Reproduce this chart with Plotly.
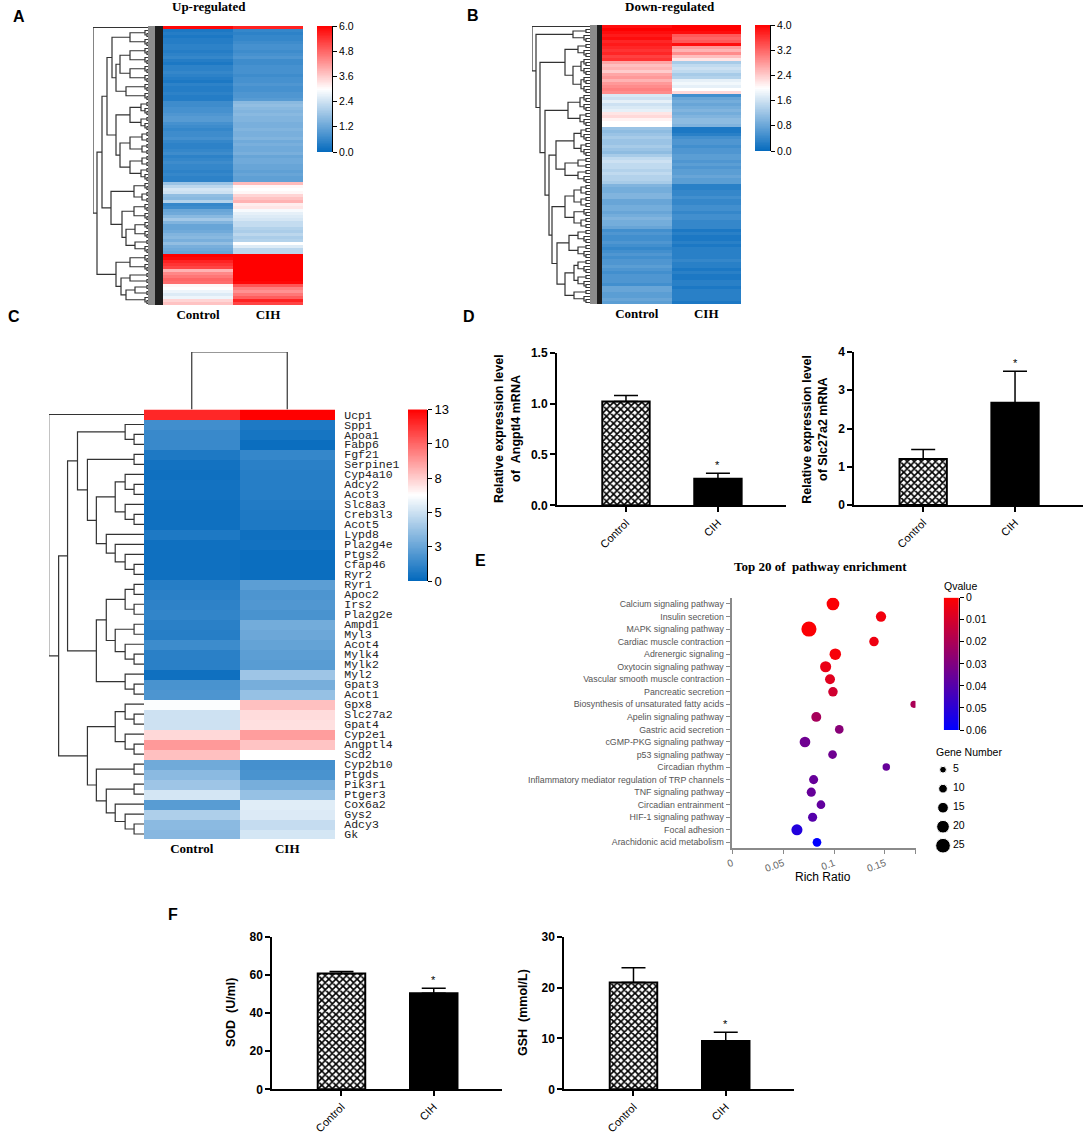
import numpy as np
import plotly.graph_objects as go

W, H = 1084, 1134
SANS = "Liberation Sans"
SERIF = "Liberation Serif"
MONO = "Liberation Mono"

GROUPS = ["Control", "CIH"]

# heat map values, top row first
A_CONTROL = [5.9,
             .3, .4, .3, .4, .4, .5, .5, .4, .5, .6, .4, .3, .5, .5, .6, .5, .4, .3, .5, .4, .4, .5, .4, .4,
             .7, .7, .8, .8, .9, 1.0, 1.0, .8, .7, .6, .7, .7, .8, .6, .5, .5, .6, .7, .5, .6, .7, .6, .6, .5, .6, .5, .5,
             1.8, 2.2, 2.5, 2.4, 1.7, 1.6, 2.1,
             .6, .7,
             1.2, 1.3, 1.6, 1.9, 1.5, 1.2, 1.2, 1.3, 1.5, 1.6, 1.4, 1.7, 1.4, 1.3, 1.2,
             6.0, 5.9, 5.6, 5.4, 5.2,
             3.9, 4.4, 4.6, 4.8, 4.7,
             3.1, 3.0, 2.8, 2.6, 2.8,
             3.5, 3.7]
A_CIH = [5.6,
         .6, .5, .6, .6, .7, .8, .8, .7, .8, .9, .7, .7, .8, .8, .8, .7, .8, .8, .9, .8, .8, .9, .9, 1.0,
         1.6, 1.7, 1.6, 1.5, 1.6, 1.5, 1.5, 1.4, 1.4, 1.5, 1.4, 1.4, 1.5, 1.3, 1.4, 1.3, 1.3, 1.4, 1.2, 1.3, 1.3, 1.2, 1.2, 1.1, 1.2, 1.1, 1.1,
         3.8, 3.1, 3.0, 3.1, 3.5, 3.7, 3.9,
         3.2, 3.3,
         2.9, 2.7, 2.6, 2.5, 2.3, 2.3, 2.1, 2.0, 2.2, 2.0, 2.1, 3.0, 2.6, 2.2, 2.2,
         6.0, 6.0, 6.0, 6.0, 6.0,
         6.0, 6.0, 6.0, 6.0, 5.9,
         5.0, 4.5, 4.3, 4.6, 4.9,
         5.6, 5.2]
B_CONTROL = [3.9, 4.0, 3.9, 3.8, 3.9, 3.7, 3.8, 3.7, 3.6, 3.7, 3.5, 3.6,
             2.7, 2.5, 2.6, 2.4, 2.7, 2.8, 2.6, 2.8, 2.9, 3.0, 2.9,
             1.7, 1.6, 1.8, 1.6, 1.7, 1.8,
             2.2, 2.3,
             2.1, 2.0, 2.0,
             1.2, 1.1, 1.2, 1.3, 1.2, 1.2, 1.3, 1.2, 1.1, 1.3,
             1.5, 1.6, 1.5, 1.5, 1.4, 1.5, 1.4, 1.4, 1.3,
             1.0, .9, .9, 1.0, 1.0, .8, .8, .9, .9, .8, .9, 1.0, .9, .9, .8,
             .5, .6, .5, .5, .6, .5, .4, .5, .6, .5, .6, .6, .7, .6, .5, .6, .6, .6, .5,
             .8, .8, .7, .7, .8, .7]
B_CIH = [4.0, 4.0, 3.9,
         3.3, 3.2, 3.3,
         3.9,
         2.8, 2.6, 2.9, 2.5, 2.2,
         1.3, 1.5, 1.6, 1.5, 1.3, 1.4,
         1.8, 1.9, 1.8, 2.0,
         2.3,
         .5, .8, .9, .8, .9, 1.0, .9, 1.0, 1.1, 1.1, 1.0,
         .2, .2, .3,
         .5, .6, .6, .5, .6, .6, .7, .7, .6, .7, .6, .7, .7, .8, .7, .7,
         .3, .3, .4, .4, .5, .4, .4, .5, .5, .4, .5, .5, .4, .4, .4,
         .2, .3, .2, .2, .3, .2, .3, .3, .3, .3, .4, .3, .3, .2, .3, .2, .2, .3, .3, .2, .3, .3, .3, .3, .2]

C_GENES = ["Ucp1", "Spp1", "Apoa1", "Fabp6", "Fgf21", "Serpine1", "Cyp4a10", "Adcy2", "Acot3", "Slc8a3",
           "Creb3l3", "Acot5", "Lypd8", "Pla2g4e", "Ptgs2", "Cfap46", "Ryr2", "Ryr1", "Apoc2", "Irs2",
           "Pla2g2e", "Ampd1", "Myl3", "Acot4", "Mylk4", "Mylk2", "Myl2", "Gpat3", "Acot1", "Gpx8",
           "Slc27a2", "Gpat4", "Cyp2e1", "Angptl4", "Scd2", "Cyp2b10", "Ptgds", "Pik3r1", "Ptger3",
           "Cox6a2", "Gys2", "Adcy3", "Gk"]
C_CONTROL = [12.0, 1.6, 1.4, 1.4, .7, .4, .3, .4, .4, .3, .3, .3, .7, .3, .3, .3, .3,
             .9, 1.0, 1.1, 1.2, 1.0, .9, 1.5, 1.0, 1.0, .3, 1.8, 1.9,
             6.4, 5.2, 5.2, 7.5, 9.1, 8.1,
             2.8, 3.5, 4.0, 5.4, 2.2, 4.4, 3.5, 3.4]
C_CIH = [13.0, .7, .5, .2, 1.3, 1.0, .9, .9, .9, .8, .7, .7, .3, .4, .2, .2, .2,
         2.3, 1.9, 2.0, 1.8, 2.9, 2.7, 2.5, 2.3, 2.2, 4.0, 3.0, 3.8,
         8.1, 7.4, 7.3, 9.0, 8.0, 6.5,
         1.7, 1.8, 3.0, 3.8, 5.7, 5.6, 5.0, 5.4]

# dendrograms: (height, upper, lower), an int is a run of that many leaves
TREE_A = (70, 1, (66, (61, (56, (51, (33, 3, 3), (47, (43, (33, 3, 3), (33, 3, 3)), (37, 3, 3))),
                            (47, (33, 5, 5), (43, (33, 4, 4), (33, 4, 5)))),
                       (52, (29, 3, 4), (41, (29, 3, 3), (37, (28, 3, 3), (28, 2, 3))))),
                  (47, (33, 3, 3), (42, (33, 2, 2), (37, (28, 2, 2), 3)))))
TREE_B = (70, 1, (66, (29, 2, 3),
                  (62, (37, (24, 2, 3), (29, (21, 3, 3), (21, 3, 3))),
                   (57, (34, (22, 3, 3), (22, 2, 3)),
                    (53, (46, (28, (21, 2, 3), (21, 2, 3)), (37, (24, 2, 2), (24, 2, 3))),
                     (50, (37, (28, (21, 2, 2), (21, 2, 2)), (28, 3, 4)),
                      (45, (33, (24, 2, 3), (24, 2, 3)),
                       (37, (28, (24, 2, 3), (24, 2, 3)), (28, 2, 3)))))))))
TREE_C = (96, 1, (86, (77, (67, (19, 1, (10, 1, 1)),
                            (57, (10, 1, 1),
                             (48, (29, (19, 1, (10, 1, 1)), (19, 1, (10, 1, 1))),
                              (38, 1, (29, 1, (19, 1, (10, 1, 1))))))),
                       (48, (38, (19, (10, 1, 1), (10, 1, 1)),
                             (29, (10, 1, 1), (19, 1, (10, 1, 1)))),
                        (19, 1, (10, 1, 1)))),
                  (57, (29, (19, 1, (10, 1, 1)), (19, 1, (10, 1, 1))),
                   (48, (10, 1, 1), (38, (10, 1, 1), (29, 1, (19, 1, (10, 1, 1))))))))
TREE_C_TOP = (57, 1, 1)
BLOCK_HEIGHT = {2: 16, 3: 18, 4: 21, 5: 22}

# bar panels
ANGPTL4 = [1.02, 0.26]
ANGPTL4_ERR = [0.06, 0.055]
SLC27A2 = [1.2, 2.67]
SLC27A2_ERR = [0.25, 0.83]
SOD = [60.7, 50.3]
SOD_ERR = [1.1, 2.7]
GSH = [21.0, 9.5]
GSH_ERR = [2.9, 1.7]

# pathway bubbles
PATHWAYS = ["Calcium signaling pathway", "Insulin secretion", "MAPK signaling pathway",
            "Cardiac muscle contraction", "Adrenergic signaling", "Oxytocin signaling pathway",
            "Vascular smooth muscle contraction", "Pancreatic secretion",
            "Biosynthesis of unsaturated fatty acids", "Apelin signaling pathway",
            "Gastric acid secretion", "cGMP-PKG signaling pathway", "p53 signaling pathway",
            "Circadian rhythm", "Inflammatory mediator regulation of TRP channels",
            "TNF signaling pathway", "Circadian entrainment", "HIF-1 signaling pathway",
            "Focal adhesion", "Arachidonic acid metabolism"]
RICH_RATIO = [.0989, .1461, .0753, .1392, .1012, .0917, .0960, .0989, .1785, .0825,
              .1051, .0714, .0985, .1513, .0799, .0776, .0871, .0789, .0635, .0832]
QVALUE = [.001, .003, .001, .004, .002, .005, .007, .011, .02, .021,
          .028, .034, .034, .036, .036, .036, .037, .04, .052, .06]
GENE_NUMBER = [20, 14, 26, 12, 17, 16, 13, 12, 6, 13, 10, 15, 10, 7, 11, 11, 10, 11, 16, 10]
LEGEND_GENES = [5, 10, 15, 20, 25]

HEAT_SCALE = [[0, "#0369bd"], [0.5, "#ffffff"], [1, "#ff0000"]]
Q_SCALE = [[0, "#ff0000"], [0.5, "#800080"], [1, "#0000ff"]]

fig = go.Figure()
axis_no = 1


def new_axes(x0, x1, y0, y1, xopts, yopts):
    """Make an axis pair that fills the given pixel box, returns its number."""
    global axis_no
    axis_no += 1
    n = axis_no
    hidden = dict(visible=False, showgrid=False, zeroline=False, automargin=False)
    fig.update_layout(**{
        f"xaxis{n}": {**hidden, "domain": [x0 / W, x1 / W], "anchor": f"y{n}", **xopts},
        f"yaxis{n}": {**hidden, "domain": [1 - y1 / H, 1 - y0 / H], "anchor": f"x{n}", **yopts},
    })
    return n


def label(px, py, text, size=12, family=SANS, bold=False, angle=0, color="black", xanchor="center"):
    fig.add_annotation(x=px / W, y=1 - py / H, xref="paper", yref="paper", text=text, showarrow=False,
                       textangle=angle, xanchor=xanchor, yanchor="middle",
                       font=dict(size=size, family=family, color=color, weight=700 if bold else 400))


def tree_lines(node, start, xs, ys):
    """Walk a dendrogram, appending its elbows, returns centre, height, next leaf."""
    if isinstance(node, int):
        if node == 1:
            return start, 0, start + 1
        node = (BLOCK_HEIGHT[node], node // 2, node - node // 2)
    h, upper, lower = node
    ya, ha, nxt = tree_lines(upper, start, xs, ys)
    yb, hb, nxt = tree_lines(lower, nxt, xs, ys)
    xs += [ha, h, h, hb, None]
    ys += [ya, ya, yb, yb, None]
    return (ya + yb) / 2, h, nxt


def add_heat(x0, x1, y0, y1, control, cih, zmax, genes=None):
    rows = list(range(len(control)))
    yopts = dict(range=[len(rows) - 0.5, -0.5])
    if genes:
        yopts.update(visible=True, side="right", tickvals=rows, ticktext=genes, ticks="outside", ticklen=6,
                     tickcolor="rgba(0,0,0,0)", showline=False,
                     tickfont=dict(family=MONO, size=11.5, color="#222"))
    n = new_axes(x0, x1, y0, y1,
                 dict(visible=True, showline=False, ticks="", type="category",
                      tickfont=dict(family=SERIF, size=13, color="black", weight=700)),
                 yopts)
    z = [[a, b] for a, b in zip(control, cih)]
    fig.add_trace(go.Heatmap(x=GROUPS, y=rows, z=z, zmin=0, zmax=zmax, colorscale=HEAT_SCALE,
                             showscale=False, xaxis=f"x{n}", yaxis=f"y{n}"))


def add_tree(tree, x0, x1, y0, y1, rows, top=None):
    xs, ys = [], []
    tree_lines(tree, 0, xs, ys)
    n = new_axes(x0, x1, y0, y1, dict(range=[top, 0]), dict(range=[rows - 0.5, -0.5]))
    fig.add_trace(go.Scatter(x=xs, y=ys, mode="lines", line=dict(color="#333333", width=1.2),
                             hoverinfo="skip", xaxis=f"x{n}", yaxis=f"y{n}"))


def add_scale(x0, x1, y0, y1, zmax, tickvals, ticktext, scale, reverse=False, size=10.5):
    yrange = [zmax, 0] if reverse else [0, zmax]
    n = new_axes(x0, x1, y0, y1, dict(),
                 dict(visible=True, side="right", range=yrange, tickvals=tickvals, ticktext=ticktext,
                      showline=True, linecolor="black", linewidth=1, ticks="outside", ticklen=4,
                      tickcolor="black", tickfont=dict(family=SANS, size=size, color="black")))
    ramp = np.linspace(0, zmax, 200)
    fig.add_trace(go.Heatmap(x=[0], y=ramp, z=[[v] for v in ramp], zmin=0, zmax=zmax, colorscale=scale,
                             showscale=False, hoverinfo="skip", xaxis=f"x{n}", yaxis=f"y{n}"))


def add_bars(x0, x1, y0, y1, values, errors, ymax, ticks, starred):
    n = new_axes(x0, x1, y0, y1,
                 dict(visible=True, type="category", range=[-0.75, 1.74], showline=True, linecolor="black",
                      linewidth=2, ticks="outside", ticklen=5, tickwidth=2, tickcolor="black",
                      tickangle=-45, tickfont=dict(family=SANS, size=11, color="black")),
                 dict(visible=True, range=[0, ymax], tickvals=ticks, ticktext=[str(t) for t in ticks],
                      showline=True, linecolor="black", linewidth=2, ticks="outside", ticklen=5,
                      tickwidth=2, tickcolor="black",
                      tickfont=dict(family=SANS, size=12, color="black", weight=700)))
    # in "replace" mode the pattern is painted in the marker colour
    fig.add_trace(go.Bar(x=GROUPS, y=values, width=0.515, xaxis=f"x{n}", yaxis=f"y{n}",
                         marker=dict(color=["black", "black"], line=dict(color="black", width=2),
                                     pattern=dict(shape=["x", ""], size=5, solidity=0.55, fillmode="replace",
                                                  fgopacity=1)),
                         error_y=dict(type="data", symmetric=False, array=errors, arrayminus=[0, 0],
                                      color="black", thickness=1.5, width=12)))
    fig.add_annotation(x=GROUPS[starred], y=values[starred] + errors[starred], xref=f"x{n}", yref=f"y{n}",
                       text="*", showarrow=False, yanchor="bottom", font=dict(size=11, family=SANS, color="black"))


# panel A
add_tree(TREE_A, 93, 163, 26, 305, len(A_CONTROL), 70)
add_heat(163, 303, 26, 305, A_CONTROL, A_CIH, 6)
add_scale(317, 332, 26, 152, 6, [0, 1.2, 2.4, 3.6, 4.8, 6], ["0.0", "1.2", "2.4", "3.6", "4.8", "6.0"], HEAT_SCALE)
# panel B
add_tree(TREE_B, 532, 602, 25, 304, len(B_CONTROL), 70)
add_heat(602, 741, 25, 304, B_CONTROL, B_CIH, 4)
add_scale(755, 770, 25, 151, 4, [0, .8, 1.6, 2.4, 3.2, 4], ["0.0", "0.8", "1.6", "2.4", "3.2", "4.0"], HEAT_SCALE)
# panel C
add_tree(TREE_C, 49, 144, 409.5, 839, len(C_GENES), 95.7)
add_heat(144, 335, 409.5, 839, C_CONTROL, C_CIH, 13, genes=C_GENES)
add_scale(408, 427, 409.5, 581, 13, [0, 2.6, 5.2, 7.8, 10.4, 13], ["0", "3", "5", "8", "10", "13"], HEAT_SCALE, size=13)
top_xs, top_ys = [], []
tree_lines(TREE_C_TOP, 0, top_ys, top_xs)
top = new_axes(144, 335, 352, 409.5, dict(range=[-0.5, 1.5]), dict(range=[0, 57]))
fig.add_trace(go.Scatter(x=top_xs, y=top_ys, mode="lines", line=dict(color="#333333", width=1.2),
                         hoverinfo="skip", xaxis=f"x{top}", yaxis=f"y{top}"))

# the squeezed row labels of A and B read as a solid strip
for gray_x0, dark_x0, right, y0, y1 in [(148, 155, 163, 26, 305), (590, 597, 602, 25, 304)]:
    fig.add_shape(type="rect", xref="paper", yref="paper", x0=gray_x0 / W, x1=dark_x0 / W, y0=1 - y1 / H,
                  y1=1 - y0 / H, fillcolor="#8c8c8c", line_width=0, layer="above")
    fig.add_shape(type="rect", xref="paper", yref="paper", x0=dark_x0 / W, x1=right / W, y0=1 - y1 / H,
                  y1=1 - y0 / H, fillcolor="#1e1e1e", line_width=0, layer="above")

# panel D
add_bars(557, 786, 352.7, 505.3, ANGPTL4, ANGPTL4_ERR, 1.5, [0.0, 0.5, 1.0, 1.5], 1)
add_bars(854.3, 1083, 352, 505, SLC27A2, SLC27A2_ERR, 4, [0, 1, 2, 3, 4], 1)
# panel F
add_bars(272.3, 502, 936.7, 1089.3, SOD, SOD_ERR, 80, [0, 20, 40, 60, 80], 1)
add_bars(564.3, 794, 936.7, 1089.3, GSH, GSH_ERR, 30, [0, 10, 20, 30], 1)

# panel E
grey = "#8a8a8a"
n = new_axes(732.3, 915.5, 597.7, 848,
             dict(visible=True, range=[0, 0.18], tickvals=[0, 0.05, 0.1, 0.15, 0.18],
                  ticktext=["0", "0.05", "0.1", "0.15", ""], tickangle=-20, showline=True,
                  linecolor=grey, linewidth=1.5, ticks="outside", ticklen=4, tickcolor=grey,
                  tickfont=dict(family=SANS, size=10, color="#666")),
             dict(visible=True, type="category", categoryorder="array", categoryarray=PATHWAYS,
                  range=[19.45, -0.5], showline=True, linecolor=grey, linewidth=1.5, ticks="outside",
                  ticklen=5, tickcolor=grey, tickfont=dict(family=SANS, size=8.8, color="#555")))
fig.add_trace(go.Scatter(x=RICH_RATIO, y=PATHWAYS, mode="markers", xaxis=f"x{n}", yaxis=f"y{n}",
                         marker=dict(size=[4.7 + 0.4 * g for g in GENE_NUMBER], color=QVALUE, cmin=0, cmax=0.06,
                                     colorscale=Q_SCALE, opacity=1, line_width=0)))
add_scale(943.7, 959, 597.7, 730, 0.06, [0, .01, .02, .03, .04, .05, .06],
          ["0", "0.01", "0.02", "0.03", "0.04", "0.05", "0.06"], Q_SCALE, reverse=True)
# size key, dots on a category axis with their numbers in a column beside them
n = new_axes(933, 953, 764, 851.4, dict(range=[0, 2]), dict(type="category", range=[4.3, -0.3]))
key_names = [str(g) for g in LEGEND_GENES]
fig.add_trace(go.Scatter(x=[1] * len(key_names), y=key_names, mode="markers",
                         marker=dict(size=[4.7 + 0.4 * g for g in LEGEND_GENES], color="black", opacity=1),
                         cliponaxis=False, xaxis=f"x{n}", yaxis=f"y{n}"))
fig.add_trace(go.Scatter(x=[2] * len(key_names), y=key_names, mode="text", text=key_names,
                         textposition="middle right", textfont=dict(family=SANS, size=10.5, color="black"),
                         cliponaxis=False, xaxis=f"x{n}", yaxis=f"y{n}"))

# titles and letters
label(209, 6, "Up-regulated", 13, SERIF, True)
label(670, 6, "Down-regulated", 13, SERIF, True)
label(820, 566, "Top 20 of \u00a0pathway enrichment", 13, SERIF, True)
label(823, 877, "Rich Ratio", 12)
label(960, 586, "Qvalue", 10.5)
label(969, 752, "Gene Number", 10.5)
label(499, 429, "Relative expression level", 12.5, SANS, True, -90)
label(516, 429, "of \u00a0Angptl4 mRNA", 12.5, SANS, True, -90)
label(806.7, 429, "Relative expression level", 12.5, SANS, True, -90)
label(823, 429, "of Slc27a2 mRNA", 12.5, SANS, True, -90)
label(231, 1013, "SOD \u00a0(U/ml)", 12.5, SANS, True, -90)
label(523, 1013, "GSH \u00a0(mmol/L)", 12.5, SANS, True, -90)
for letter, px, py in [("A", 19, 16), ("B", 473, 15), ("C", 14, 316), ("D", 469, 316), ("E", 480, 561), ("F", 173, 914)]:
    label(px, py, letter, 16, SANS, True)

fig.update_layout(width=W, height=H, margin=dict(l=0, r=0, t=0, b=0), showlegend=False,
                  plot_bgcolor="white", paper_bgcolor="white")

fig.write_html("out.html", config=dict(displayModeBar=False), post_script="document.body.style.margin='0';")
